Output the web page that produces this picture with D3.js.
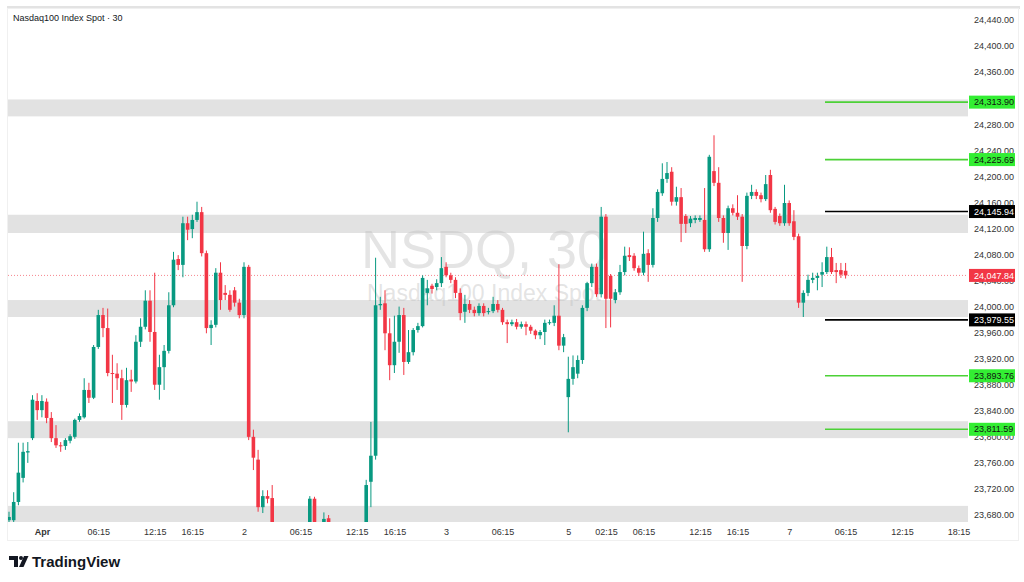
<!DOCTYPE html>
<html lang="en">
<head>
<meta charset="utf-8">
<title>NSDQ, 30</title>
<script src="https://d3js.org/d3.v7.min.js"></script>
<style>
  body { margin: 0; background: #fff; }
  text { font-family: "Liberation Sans", Arial, sans-serif; }
</style>
</head>
<body>
<script>
// 30 minute candles, left to right
var opens = [23672,23672,23700,23737,23776,23798,23855,23841,23854,23829,23798,23787,23786,23794,23800,23826,23830,23872,23860,23938,
  23987,23967,23898,23897,23890,23849,23888,23885,23946,23969,24009,23961,23880,23907,23932,24002,24073,24064,24128,24119,
  24133,24145,24082,23967,23972,24052,24021,24018,24025,24006,23987,24061,23800,23765,23692,23709,23706,23657,23630,23615,
  23635,23620,23640,23655,23645,23705,23650,23655,23675,23660,23630,23612,23632,23620,23605,23625,23648,23731,23771,24002,
  24005,23959,23910,23946,23987,23915,23930,23964,23970,24021,24032,24030,24036,24061,24048,24041,24021,23992,24004,23995,
  23990,24001,23992,23993,24004,23995,23976,23973,23976,23969,23973,23969,23963,23956,23961,23975,23975,23986,23940,23861,
  23889,23897,23918,23998,24036,24061,24019,24138,24047,24010,24022,24053,24079,24078,24059,24052,24082,24064,24136,24174,
  24196,24207,24161,24168,24139,24128,24133,24133,24133,24088,24208,24190,24136,24113,24151,24144,24138,24093,24170,24176,
  24171,24165,24202,24150,24139,24128,24159,24131,24108,24006,24021,24041,24044,24049,24053,24076,24056,24056,24055];
var highs = [23685,23715,23791,23791,23792,23864,23867,23864,23859,23838,23818,23792,23798,23804,23828,23836,23890,23883,23941,23995,
  23998,23997,23926,23913,23903,23906,23903,23956,23982,24025,24025,24052,23926,23941,24022,24084,24079,24138,24138,24141,
  24161,24153,24086,23979,24059,24068,24033,24025,24030,24012,24068,24064,23811,23780,23718,23718,23726,23662,23645,23640,
  23650,23648,23660,23664,23709,23708,23660,23684,23680,23663,23645,23640,23650,23640,23630,23655,23734,23823,24075,24015,
  24025,23982,23986,24000,23998,23964,23967,23975,24048,24041,24035,24042,24076,24068,24052,24045,24028,24018,24010,24000,
  24005,24005,23998,24015,24010,23998,23980,23980,23981,23977,23977,23972,23965,23964,23980,23980,24002,24065,23958,23923,
  23925,23925,24002,24038,24066,24066,24153,24142,24050,24027,24064,24092,24091,24082,24063,24115,24088,24151,24180,24220,
  24222,24214,24184,24182,24142,24139,24140,24140,24182,24233,24263,24214,24140,24155,24157,24171,24142,24175,24187,24180,
  24175,24202,24210,24153,24143,24187,24163,24148,24112,24025,24049,24052,24052,24068,24092,24090,24067,24067,24067];
var lows = [23668,23668,23695,23730,23760,23795,23826,23830,23821,23792,23783,23777,23780,23790,23797,23823,23828,23852,23858,23935,
  23953,23893,23852,23872,23826,23845,23869,23882,23938,23965,23946,23872,23857,23872,23928,23999,24056,24045,24102,24105,
  24130,24077,23959,23941,23968,23995,24010,23992,24000,23982,23982,23795,23749,23685,23683,23698,23640,23620,23600,23605,
  23610,23612,23625,23630,23640,23640,23630,23650,23650,23620,23605,23600,23615,23595,23590,23610,23610,23692,23765,23995,
  23933,23887,23898,23929,23895,23912,23925,23960,23968,24002,24020,24025,24030,24045,24036,24013,23979,23975,23990,23985,
  23986,23985,23988,23990,23991,23972,23944,23970,23965,23966,23956,23958,23950,23950,23941,23972,23970,23933,23930,23807,
  23880,23890,23912,23993,24030,24015,24014,23967,23968,24005,24018,24048,24070,24055,24047,24048,24038,24060,24130,24170,
  24190,24155,24155,24099,24113,24122,24128,24130,24084,24084,24185,24130,24098,24087,24140,24133,24038,24088,24165,24165,
  24160,24162,24144,24126,24124,24124,24124,24102,23998,23984,24016,24036,24025,24030,24050,24050,24036,24044,24043];
var closes = [23677,23700,23745,23777,23778,23857,23841,23855,23829,23798,23787,23786,23795,23801,23826,23832,23872,23860,23938,23987,
  23967,23898,23897,23890,23849,23887,23885,23946,23969,24009,23961,23880,23907,23932,24002,24072,24064,24128,24118,24133,
  24145,24082,23967,23972,24052,24010,24018,23995,24006,23987,24061,23800,23768,23692,23709,23705,23657,23630,23615,23635,
  23620,23640,23655,23645,23705,23650,23655,23674,23668,23630,23612,23632,23620,23605,23625,23648,23726,23771,24002,24004,
  23959,23910,23946,23987,23915,23930,23964,23970,24044,24028,24027,24036,24059,24048,24041,24021,23990,24004,23995,23990,
  24001,23990,23993,24004,23995,23976,23973,23976,23969,23973,23969,23963,23956,23961,23975,23976,23986,23940,23953,23889,
  23907,23918,23998,24036,24061,24019,24138,24012,24012,24022,24053,24078,24076,24059,24052,24081,24064,24136,24176,24196,
  24205,24161,24168,24127,24127,24135,24136,24136,24088,24230,24190,24136,24113,24151,24144,24138,24093,24170,24176,24170,
  24165,24188,24148,24130,24128,24159,24128,24107,24006,24021,24041,24044,24047,24053,24076,24053,24053,24049,24047.84];

// time axis (bar index of each label)
var timeIdx = [7, 19, 31, 39, 50, 62, 74, 82, 93, 105, 119, 127, 135, 147, 155, 166, 178, 190, 202];
var timeLabels = ["Apr", "06:15", "12:15", "16:15", "2", "06:15", "12:15", "16:15", "3", "06:15", "5", "02:15", "06:15", "12:15", "16:15", "7", "06:15", "12:15", "18:15"];

// price axis
var priceTicks = [23680, 23720, 23760, 23800, 23840, 23880, 23920, 23960, 24000, 24040, 24080, 24120, 24160, 24200, 24240, 24280, 24320, 24360, 24400, 24440];

// grey zones (top / bottom price)
var zoneTop = [24318, 24141, 24010, 23824, 23694];
var zoneBottom = [24292, 24113, 23984, 23798, 23655];

// horizontal levels
var levelPrices = [24313.90, 24225.69, 24145.94, 23979.55, 23893.76, 23811.59];
var levelKinds = ["target", "target", "entry", "entry", "target", "target"];
var lastPrice = 24047.84;

var w = 1024, h = 582;
var plot = {left: 8, right: 968, top: 9, bottom: 522};
var green = "#089981", red = "#f23645";

var svg = d3.select("body").append("svg").attr("width", w).attr("height", h);

var xScale = d3.scaleLinear().domain([0, 202]).range([9, 958.4]);
var yScale = d3.scaleLinear().domain([23680, 24440]).range([515, 20]);

svg.append("defs").append("clipPath").attr("id", "clip")
  .append("rect").attr("x", plot.left).attr("y", plot.top)
  .attr("width", plot.right - plot.left).attr("height", plot.bottom - plot.top);

// frame
svg.append("rect").attr("x", 7).attr("y", 6).attr("width", 1013).attr("height", 3).attr("fill", "#e3e3e3");
svg.append("rect").attr("x", 7.5).attr("y", 8.5).attr("width", 1011).attr("height", 532)
  .attr("fill", "none").attr("stroke", "#f0f0f0");

var g = svg.append("g").attr("clip-path", "url(#clip)");

// zones
g.selectAll("rect.zone").data(zoneTop).enter().append("rect")
  .attr("class", "zone")
  .attr("x", plot.left).attr("width", plot.right - plot.left)
  .attr("y", d => yScale(d))
  .attr("height", (d, i) => yScale(zoneBottom[i]) - yScale(d))
  .attr("fill", "#e2e2e2");

// watermark
g.append("text").attr("x", 484).attr("y", 268).attr("text-anchor", "middle")
  .attr("font-size", 54).attr("fill", "rgba(190,190,190,0.42)").text("NSDQ, 30");
g.append("text").attr("x", 484).attr("y", 301).attr("text-anchor", "middle")
  .attr("font-size", 23).attr("fill", "rgba(190,190,190,0.42)").text("Nasdaq100 Index Spot");

// last price line
g.append("line").attr("x1", plot.left).attr("x2", plot.right)
  .attr("y1", yScale(lastPrice)).attr("y2", yScale(lastPrice))
  .attr("stroke", red).attr("stroke-width", 1).attr("stroke-dasharray", "1,2").attr("opacity", 0.6);

// candles
var idx = d3.range(opens.length);
var candle = g.selectAll("g.candle").data(idx).enter().append("g").attr("class", "candle");
candle.append("line")
  .attr("x1", i => xScale(i)).attr("x2", i => xScale(i))
  .attr("y1", i => yScale(highs[i])).attr("y2", i => yScale(lows[i]))
  .attr("stroke", i => closes[i] >= opens[i] ? green : red).attr("stroke-width", 1);
candle.append("rect")
  .attr("x", i => xScale(i) - 1.8).attr("width", 3.6)
  .attr("y", i => yScale(Math.max(opens[i], closes[i])))
  .attr("height", i => Math.max(1, Math.abs(yScale(opens[i]) - yScale(closes[i]))))
  .attr("fill", i => closes[i] >= opens[i] ? green : red);

// level lines
function levelColor(k) { return k == "entry" ? "#000000" : "#4cd137"; }
svg.selectAll("line.level").data(levelPrices).enter().append("line")
  .attr("class", "level")
  .attr("x1", 825).attr("x2", plot.right)
  .attr("y1", d => yScale(d)).attr("y2", d => yScale(d))
  .attr("stroke", (d, i) => levelColor(levelKinds[i])).attr("stroke-width", 1.6);

// price axis
var yAxis = d3.axisRight(yScale).tickValues(priceTicks).tickFormat(d3.format(",.2f")).tickSize(0).tickPadding(6);
var ya = svg.append("g").attr("transform", "translate(" + plot.right + ",0)").call(yAxis);
ya.select(".domain").remove();
ya.selectAll("text").attr("font-size", 9).attr("fill", "#333").attr("font-family", "Liberation Sans, Arial, sans-serif");

// time axis
var xAxis = d3.axisBottom(xScale).tickValues(timeIdx).tickFormat((d, i) => timeLabels[i]).tickSize(0).tickPadding(6);
var xa = svg.append("g").attr("transform", "translate(0," + (plot.bottom + 1) + ")").call(xAxis);
xa.select(".domain").remove();
xa.selectAll("text").attr("font-size", 9).attr("fill", "#333").attr("font-family", "Liberation Sans, Arial, sans-serif")
  .attr("font-weight", (d, i) => timeLabels[i] == "Apr" ? "bold" : "normal");

// price labels on the axis
var fmt = d3.format(",.2f");
function priceTag(v, bg, fg) {
  var y = yScale(v);
  svg.append("rect").attr("x", 969).attr("y", y - 6.5).attr("width", 46).attr("height", 13).attr("fill", bg);
  svg.append("text").attr("x", 974).attr("y", y).attr("dy", "0.35em")
    .attr("font-size", 9).attr("fill", fg).text(fmt(v));
}
levelPrices.forEach((v, i) => {
  if (levelKinds[i] == "entry") priceTag(v, "#000000", "#ffffff");
  else priceTag(v, "#33ee33", "#111111");
});
priceTag(lastPrice, red, "#ffffff");

// title
svg.append("text").attr("x", 13).attr("y", 21).attr("font-size", 9).attr("fill", "#131722")
  .text("Nasdaq100 Index Spot \u00b7 30");

// TradingView logo
var logo = svg.append("g").attr("fill", "#131722");
logo.append("path").attr("d", "M9 556 H18 V567 H14 V560 H9 Z");
logo.append("circle").attr("cx", 21).attr("cy", 558).attr("r", 2);
logo.append("path").attr("d", "M24 556 H28.5 L23.5 567 H19 Z");
svg.append("text").attr("x", 32).attr("y", 567).attr("font-size", 15).attr("font-weight", "bold")
  .attr("font-family", "Inter, Liberation Sans, sans-serif").attr("fill", "#131722").text("TradingView");
</script>
</body>
</html>
